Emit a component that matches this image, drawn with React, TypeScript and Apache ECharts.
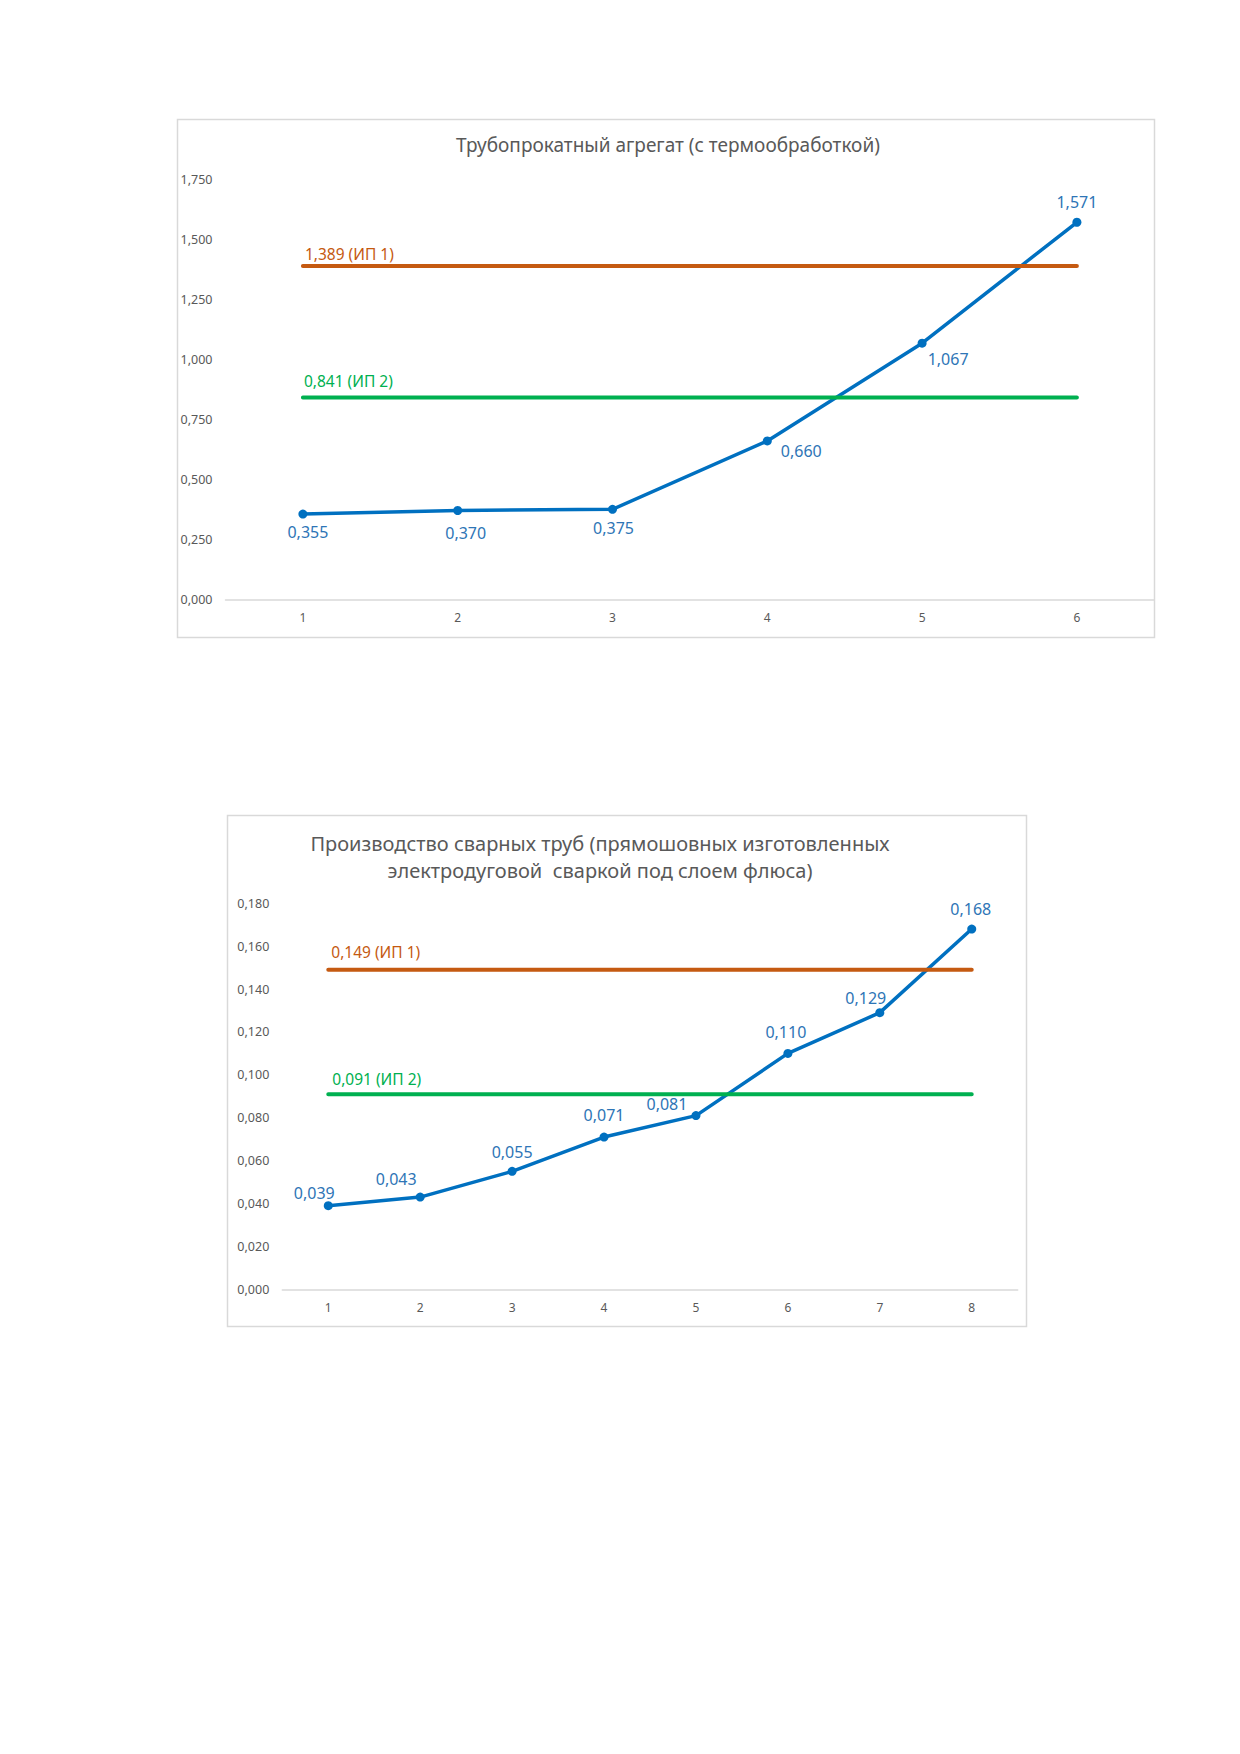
import React, { useEffect, useRef } from "react";
import * as echarts from "echarts";

// ---------- data ----------
const title1 = "Трубопрокатный агрегат (с термообработкой)";
const categories1 = ["1", "2", "3", "4", "5", "6"];
const values1 = [0.355, 0.37, 0.375, 0.66, 1.067, 1.571];
const ip1Chart1 = 1.389;
const ip2Chart1 = 0.841;
const yMin1 = 0;
const yMax1 = 1.75;
const yStep1 = 0.25;

const title2 =
  "Производство сварных труб (прямошовных изготовленных\nэлектродуговой  сваркой под слоем флюса)";
const categories2 = ["1", "2", "3", "4", "5", "6", "7", "8"];
const values2 = [0.039, 0.043, 0.055, 0.071, 0.081, 0.11, 0.129, 0.168];
const ip1Chart2 = 0.149;
const ip2Chart2 = 0.091;
const yMin2 = 0;
const yMax2 = 0.18;
const yStep2 = 0.02;

const ip1Name = "ИП 1";
const ip2Name = "ИП 2";

// ---------- styles ----------
const FONT = "'Noto Sans', 'Open Sans', sans-serif";
const BLUE = "#0070C0";
const LABEL_BLUE = "#2E75B6";
const ORANGE = "#C55A11";
const GREEN = "#00B050";
const AXIS_TEXT = "#595959";
const AXIS_LINE = "#D9D9D9";

// label offsets (style only) relative to each point
const labelOffsets1: [number, number][] = [
  [5, 18],
  [8, 22],
  [1, 19],
  [34, 10],
  [26, 16],
  [0, -20],
];
const labelOffsets2: [number, number][] = [
  [-14, -13],
  [-24, -18],
  [0, -19],
  [0, -22],
  [-29, -12],
  [-2, -21],
  [-14, -15],
  [-1, -20],
];

const fmt = (v: number) => v.toFixed(3).replace(".", ",");

function mainSeries(values: number[], offsets: [number, number][], axisIdx: number) {
  return {
    type: "line",
    xAxisIndex: axisIdx,
    yAxisIndex: axisIdx,
    data: values.map((v, i) => ({ value: v, label: { offset: offsets[i] } })),
    symbol: "circle",
    symbolSize: 9,
    lineStyle: { color: BLUE, width: 3.5 },
    itemStyle: { color: BLUE, borderWidth: 0 },
    label: {
      show: true,
      position: "inside",
      align: "center",
      verticalAlign: "middle",
      color: LABEL_BLUE,
      fontSize: 16,
      fontFamily: FONT,
      textBorderWidth: 0,
      formatter: (p: any) => fmt(p.value),
    },
    z: 2,
  };
}

function refSeries(
  cats: string[],
  value: number,
  name: string,
  color: string,
  axisIdx: number,
  offset: [number, number]
) {
  return {
    type: "line",
    xAxisIndex: axisIdx,
    yAxisIndex: axisIdx,
    data: cats.map((_, i) =>
      i === 0
        ? {
            value,
            label: {
              show: true,
              position: "inside",
              align: "left",
              verticalAlign: "middle",
              offset,
              color,
              fontSize: 15.5,
              fontFamily: FONT,
              textBorderWidth: 0,
              formatter: () => `${fmt(value)} (${name})`,
            },
          }
        : value
    ),
    symbol: "circle",
    symbolSize: 0,
    showSymbol: true,
    lineStyle: { color, width: 4, cap: "round" },
    itemStyle: { color, borderWidth: 0 },
    label: { show: false },
    z: 3,
  };
}

function xAxis(cats: string[], gridIndex: number) {
  return {
    type: "category",
    gridIndex,
    data: cats,
    boundaryGap: true,
    axisLine: { show: true, lineStyle: { color: AXIS_LINE, width: 1.5 } },
    axisTick: { show: false },
    splitLine: { show: false },
    axisLabel: { color: AXIS_TEXT, fontSize: 12, fontFamily: FONT, margin: 12 },
  };
}

function yAxis(min: number, max: number, interval: number, gridIndex: number, fs: number) {
  return {
    type: "value",
    gridIndex,
    min,
    max,
    interval,
    axisLine: { show: false },
    axisTick: { show: false },
    splitLine: { show: false },
    axisLabel: {
      color: AXIS_TEXT,
      fontSize: fs,
      fontFamily: FONT,
      margin: 13,
      formatter: (v: number) => fmt(v),
    },
  };
}

export default function App() {
  const ref = useRef<HTMLDivElement>(null);

  useEffect(() => {
    if (!ref.current) return;
    const chart = echarts.init(ref.current, undefined, { renderer: "svg" });
    chart.setOption({
      animation: false,
      backgroundColor: "#ffffff",
      grid: [
        { left: 225.5, top: 179.3, width: 928.8, height: 420, containLabel: false },
        { left: 282.3, top: 903.3, width: 735.4, height: 386, containLabel: false },
      ],
      xAxis: [xAxis(categories1, 0), xAxis(categories2, 1)],
      yAxis: [yAxis(yMin1, yMax1, yStep1, 0, 12.5), yAxis(yMin2, yMax2, yStep2, 1, 12.5)],
      series: [
        mainSeries(values1, labelOffsets1, 0),
        refSeries(categories1, ip1Chart1, ip1Name, ORANGE, 0, [2, -12]),
        refSeries(categories1, ip2Chart1, ip2Name, GREEN, 0, [1, -16]),
        mainSeries(values2, labelOffsets2, 1),
        refSeries(categories2, ip1Chart2, ip1Name, ORANGE, 1, [3, -17.5]),
        refSeries(categories2, ip2Chart2, ip2Name, GREEN, 1, [4, -15]),
      ],
      graphic: [
        {
          type: "rect",
          shape: { x: 177.5, y: 119.5, width: 977, height: 518 },
          style: { fill: "none", stroke: AXIS_LINE, lineWidth: 1.5 },
          z: -1,
        },
        {
          type: "rect",
          shape: { x: 227.5, y: 815.5, width: 799, height: 511 },
          style: { fill: "none", stroke: AXIS_LINE, lineWidth: 1.5 },
          z: -1,
        },
        {
          type: "text",
          x: 668,
          y: 145,
          style: {
            text: title1,
            align: "center",
            verticalAlign: "middle",
            fill: AXIS_TEXT,
            fontSize: 19,
            fontFamily: FONT,
          },
        },
        {
          type: "text",
          x: 600,
          y: 857,
          style: {
            text: title2,
            align: "center",
            verticalAlign: "middle",
            fill: AXIS_TEXT,
            fontSize: 20,
            lineHeight: 27.7,
            fontFamily: FONT,
          },
        },
      ],
    });
    return () => chart.dispose();
  }, []);

  return (
    <div
      ref={ref}
      style={{ position: "absolute", left: 0, top: 0, width: 1240, height: 1754, background: "#fff" }}
    />
  );
}
